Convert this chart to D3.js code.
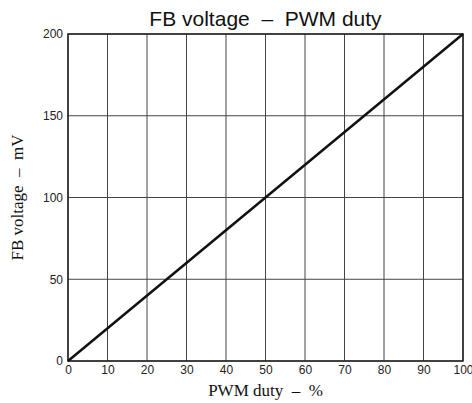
<!DOCTYPE html>
<html>
<head>
<meta charset="utf-8">
<script src="https://cdn.jsdelivr.net/npm/d3@7"></script>
<style>
  html, body { margin: 0; padding: 0; background: #fff; }
  svg { display: block; }
  text { white-space: pre; }
</style>
</head>
<body>
<svg id="chart" width="472" height="403"></svg>
<script>
// Characteristic: feedback voltage versus PWM duty
const duty = [0, 100];          // %
const fbVoltage = [0, 200];     // mV
const xTicks = [0, 10, 20, 30, 40, 50, 60, 70, 80, 90, 100];
const yTicks = [0, 50, 100, 150, 200];

const svg = d3.select("#chart");
const margin = { left: 68, right: 9, top: 34, bottom: 42 };
const W = 472, H = 403;

const x = d3.scaleLinear().domain([0, 100]).range([margin.left, W - margin.right]);
const y = d3.scaleLinear().domain([0, 200]).range([H - margin.bottom, margin.top]);

// grid
const grid = svg.append("g");
grid.selectAll("line.v").data(xTicks).join("line")
  .attr("x1", d => x(d)).attr("x2", d => x(d))
  .attr("y1", y(200)).attr("y2", y(0))
  .attr("stroke", "#444").attr("stroke-width", 1);
grid.selectAll("line.h").data(yTicks).join("line")
  .attr("x1", x(0)).attr("x2", x(100))
  .attr("y1", d => y(d)).attr("y2", d => y(d))
  .attr("stroke", "#444").attr("stroke-width", 1);

// frame
svg.append("rect")
  .attr("x", x(0)).attr("y", y(200))
  .attr("width", x(100) - x(0)).attr("height", y(0) - y(200))
  .attr("fill", "none").attr("stroke", "#222").attr("stroke-width", 1.5);

// axes (labels only)
const xAxis = svg.append("g")
  .attr("transform", `translate(0,${y(0)})`)
  .call(d3.axisBottom(x).tickValues(xTicks).tickSize(0).tickPadding(4));
const yAxis = svg.append("g")
  .attr("transform", `translate(${x(0)},0)`)
  .call(d3.axisLeft(y).tickValues(yTicks).tickSize(0).tickPadding(5));
[xAxis, yAxis].forEach(a => {
  a.select(".domain").remove();
  a.selectAll("text")
    .attr("font-family", "'Liberation Sans', Arial, sans-serif")
    .attr("font-size", 12).attr("fill", "#222");
});

// data line
svg.append("path")
  .datum(duty.map((d, i) => [d, fbVoltage[i]]))
  .attr("d", d3.line().x(d => x(d[0])).y(d => y(d[1])))
  .attr("fill", "none").attr("stroke", "#111").attr("stroke-width", 2.5);

// title
svg.append("text")
  .attr("x", (x(0) + x(100)) / 2).attr("y", 26)
  .attr("text-anchor", "middle")
  .attr("font-family", "'Liberation Sans', Arial, sans-serif")
  .attr("font-size", 21).attr("fill", "#111")
  .text("FB voltage  \u2013  PWM duty");

// axis titles
svg.append("text")
  .attr("x", (x(0) + x(100)) / 2).attr("y", 396)
  .attr("text-anchor", "middle")
  .attr("font-family", "'Liberation Serif', 'Times New Roman', serif")
  .attr("font-size", 17).attr("fill", "#111")
  .text("PWM duty  \u2013  %");

svg.append("text")
  .attr("transform", `translate(23,${(y(0) + y(200)) / 2}) rotate(-90)`)
  .attr("text-anchor", "middle")
  .attr("font-family", "'Liberation Serif', 'Times New Roman', serif")
  .attr("font-size", 17).attr("fill", "#111")
  .text("FB voltage  \u2013  mV");
</script>
</body>
</html>
